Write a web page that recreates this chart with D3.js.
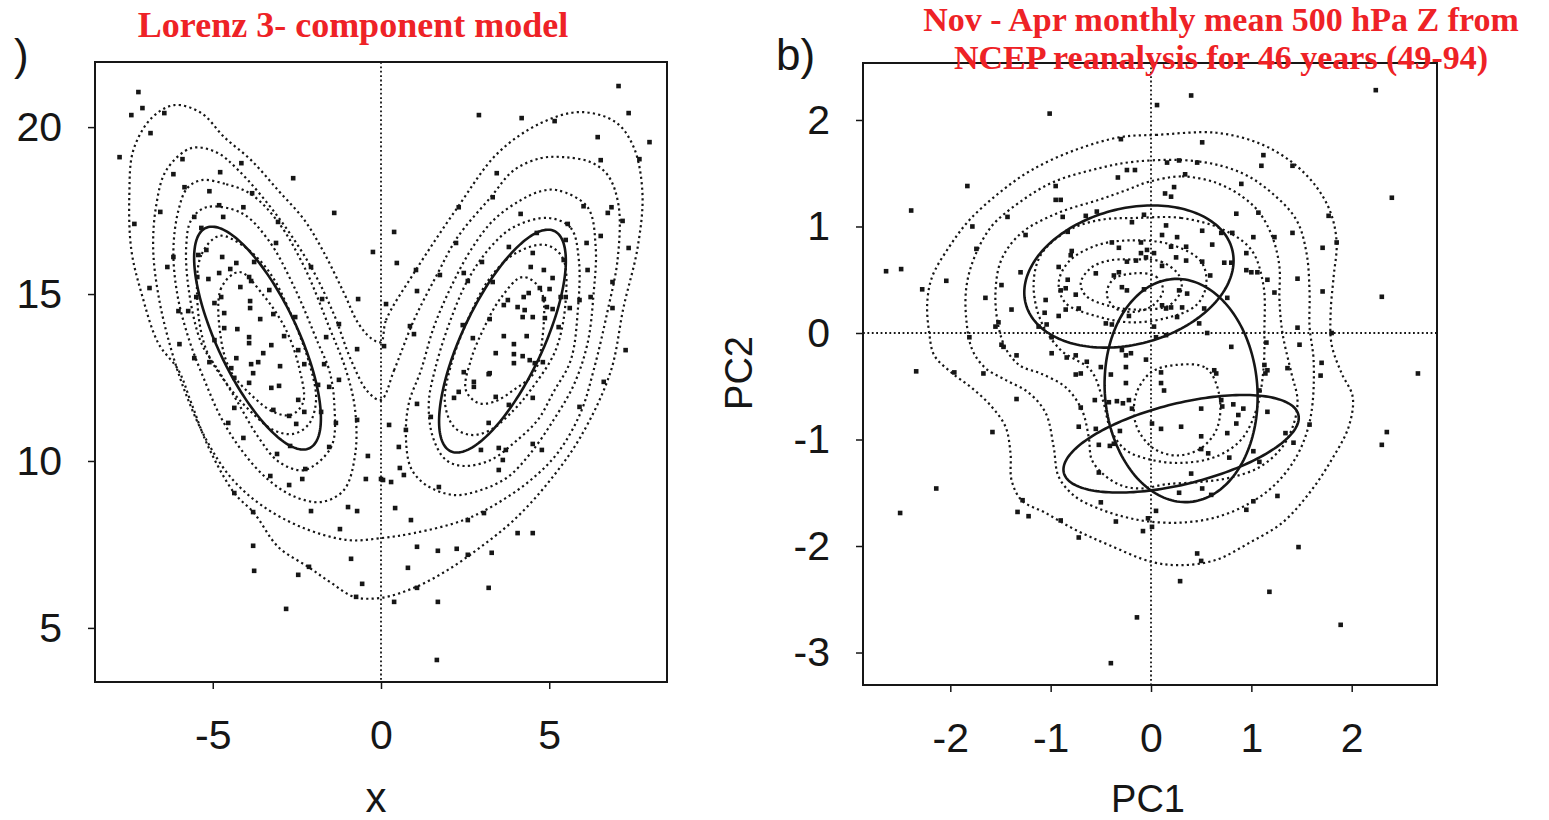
<!DOCTYPE html>
<html>
<head>
<meta charset="utf-8">
<script src="https://cdn.jsdelivr.net/npm/d3@7"></script>
<style>
  body { margin: 0; background: #fff; }
</style>
</head>
<body>
<svg id="chart" width="1549" height="820"></svg>
<script>
// ---------- panel a: Lorenz 3-component model ----------
const lorenzXTicks = [-5, 0, 5];
const lorenzYTicks = [5, 10, 15, 20];

const lorenzPoints = [
  [-7.21,21.05],[-7.42,20.36],[-7.09,20.57],[-6.44,20.42],[-6.85,19.82],[-7.77,19.10],[-5.90,19.04],[-6.17,18.59],
  [-4.78,18.65],[-4.15,18.92],[-2.61,18.47],[-5.84,18.20],[-5.10,18.08],[-3.83,18.02],[-4.81,17.66],[-4.09,17.60],
  [-6.56,17.46],[-5.55,17.31],[-4.69,17.31],[-1.39,17.43],[-3.06,17.16],[-7.33,17.10],[-5.34,16.98],[-3.12,16.53],
  [-5.43,16.17],[-5.19,16.32],[-6.17,16.11],[-4.72,16.11],[-0.24,16.26],[-6.35,15.81],[-4.30,15.93],[-3.77,15.96],
  [-2.08,15.81],[-4.48,15.75],[-4.81,15.63],[-6.88,15.18],[-5.46,15.51],[-5.13,15.45],[-3.92,15.51],[-3.86,15.39],
  [-4.18,15.21],[-3.32,15.12],[-1.75,14.85],[-0.68,14.85],[-5.49,14.91],[-4.75,14.91],[-4.95,14.73],[-3.89,14.79],
  [-3.89,14.58],[-3.20,14.40],[-6.02,14.49],[-5.73,14.49],[-4.66,14.43],[-3.59,14.25],[-2.55,14.31],[-1.25,14.10],
  [-4.66,13.98],[-4.27,13.95],[-2.88,13.74],[-1.63,13.71],[-3.92,13.71],[-3.92,13.53],[-3.26,13.47],[-5.99,13.50],
  [-4.95,13.62],[-0.71,13.35],[0.09,13.44],[-2.46,13.32],[-3.50,13.23],[-5.55,13.08],[-5.10,12.96],[-4.30,13.08],
  [-3.86,12.90],[-3.00,12.84],[-2.28,12.90],[-1.69,12.90],[-4.45,12.78],[-3.65,12.96],
  [-3.80,12.63],[-4.36,12.49],[-3.92,12.34],[-3.26,12.19],[-3.03,12.25],[-1.87,12.28],[-1.54,12.22],[-1.25,12.43],
  [-2.46,11.83],[-4.36,11.59],[-3.20,11.53],[-2.28,11.47],[-1.78,11.47],[-2.73,11.35],[-4.54,11.14],[-2.52,11.11],
  [-1.34,11.14],[-0.71,11.23],[-4.09,10.69],[-1.54,10.42],[-2.70,10.45],[-3.09,10.21],[-0.39,10.15],[-2.25,9.76],
  [-3.29,9.55],[-2.34,9.46],[-0.45,9.46],[0.00,9.46],[-2.73,9.28],[-4.36,9.04],[-3.80,8.47],[-2.08,8.50],
  [-0.98,8.62],[-0.71,8.50],[-1.22,7.96],[-3.80,7.46],[-0.89,7.07],[-3.77,6.71],[-2.46,6.59],[-2.14,6.83],
  [-0.56,6.32],[-0.74,5.93],[-2.82,5.57],
  [7.06,21.23],[2.91,20.36],[4.18,20.27],[5.16,20.18],[7.36,20.42],[7.98,19.55],[6.44,19.70],[6.53,19.01],
  [7.68,19.04],[3.44,18.62],[2.31,17.60],[3.32,17.90],[6.02,17.63],[6.74,17.43],[6.85,17.60],[7.18,17.19],
  [4.15,17.40],[0.39,16.86],[4.63,16.83],[5.55,17.10],[6.53,16.74],[2.23,16.53],[3.80,16.41],[5.49,16.62],
  [6.11,16.53],[7.36,16.38],[0.47,15.93],[4.51,16.23],[5.43,16.02],[6.14,15.72],[1.04,15.72],[1.75,15.57],
  [2.46,15.63],[3.00,15.96],[4.45,15.81],[4.84,15.72],[5.10,15.48],[3.32,15.36],[2.58,15.39],[1.07,15.09],
  [4.72,15.18],[5.01,15.15],[6.88,15.36],[4.24,14.91],[4.39,15.03],[5.34,14.91],[5.49,14.91],[5.90,14.82],
  [6.23,14.91],[3.77,14.82],[3.65,14.67],[4.06,14.61],[4.27,14.52],[4.84,14.85],[4.93,14.61],[5.10,14.55],
  [5.61,14.58],[6.88,14.58],[0.15,14.70],[4.21,14.31],[4.51,14.31],[4.87,14.28],[3.23,14.25],[0.86,14.04],
  [0.98,13.80],[2.43,14.07],[5.28,14.01],[3.65,13.74],[4.33,13.74],[2.73,13.68],[3.95,13.50],[3.41,13.23],
  [3.95,13.20],[4.21,13.14],[4.42,13.02],[4.57,12.93],[4.81,12.96],[7.27,13.32],[3.23,12.63],[3.95,12.93],
  [2.46,12.66],
  [3.20,12.60],[2.76,12.37],[2.76,12.22],[2.31,12.07],[2.17,11.89],[3.41,11.92],[3.80,11.68],[4.51,11.89],
  [1.07,11.71],[5.90,11.62],[6.62,12.37],[0.24,11.08],[0.74,10.93],[1.48,11.32],[3.20,11.14],[0.53,10.42],
  [2.97,10.33],[3.50,10.39],[3.71,10.33],[4.51,10.51],[4.78,10.33],[3.62,10.03],[0.56,9.79],[0.68,9.58],
  [0.06,9.43],[0.30,9.37],[3.50,9.73],[1.72,9.22],[0.42,8.59],[0.89,8.23],[2.58,8.23],[3.06,8.44],
  [4.06,7.84],[4.51,7.84],[1.07,7.43],[1.69,7.31],[2.25,7.37],[2.58,7.19],[3.29,7.25],[0.80,6.80],
  [1.07,6.20],[3.20,6.20],[0.39,5.78],[1.69,5.78],[1.66,4.04]
];

// density contours (data units)
const lorenzOuter = [
  [0,13.56],[0.15,14.22],[0.98,15.63],[2.28,17.60],[3.47,19.22],[4.75,20.12],[5.93,20.45],[6.97,20.15],
  [7.51,19.40],[7.77,18.02],[7.63,16.41],[7.21,14.61],[6.82,12.66],[5.93,10.72],[4.96,9.34],[3.95,8.23],
  [2.97,7.43],[1.99,6.74],[0.98,6.20],[0,5.90],[-0.80,5.93],[-1.48,6.35],[-2.17,6.83],[-3.06,7.43],
  [-3.77,8.44],[-4.36,9.04],[-5.13,10.42],[-5.64,11.74],[-6.02,12.72],[-6.62,13.53],[-7.12,15.03],[-7.42,16.32],
  [-7.48,17.96],[-7.36,19.31],[-6.82,20.27],[-6.14,20.66],[-5.34,20.42],[-4.66,19.70],[-3.86,19.01],[-3.06,18.11],
  [-2.28,17.22],[-1.69,16.23],[-1.10,15.03],[-0.68,14.13],[-0.30,13.68]
];
const lorenzSecond = [
  [0,11.83],[0.39,12.72],[0.98,14.22],[1.69,15.63],[2.28,16.71],[3.26,17.90],[3.95,18.71],[4.75,19.07],
  [5.43,19.10],[6.23,18.95],[6.74,18.56],[7.06,17.66],[7.03,16.02],[6.74,14.52],[6.32,12.72],[5.93,11.44],
  [5.25,10.24],[4.45,9.43],[3.47,8.74],[2.46,8.23],[0.98,7.84],[0,7.69],[-0.98,7.63],[-2.37,8.02],
  [-3.56,8.68],[-4.45,9.49],[-5.19,10.63],[-5.79,11.98],[-6.23,13.32],[-6.59,14.82],[-6.77,16.32],[-6.68,17.66],
  [-6.38,18.71],[-5.64,19.37],[-4.90,19.25],[-4.24,18.71],[-3.06,17.31],[-2.08,15.81],[-1.39,14.37],[-0.89,13.02],
  [-0.39,12.07]
];
const lorenzRight3 = [
  [5.25,18.11],[6.14,17.60],[6.38,16.41],[6.32,15.03],[6.14,13.53],[5.73,12.28],[5.13,11.23],[4.45,10.24],
  [3.77,9.52],[2.97,9.13],[2.17,8.98],[1.34,9.28],[0.89,9.79],[0.74,10.72],[0.83,11.74],[1.19,12.72],
  [1.57,14.01],[2.08,15.21],[2.67,16.32],[3.35,17.22],[4.15,17.81],[4.75,18.08]
];
const lorenzRight4 = [
  [4.96,17.28],[5.64,16.98],[5.88,16.02],[5.85,14.52],[5.64,13.02],[5.13,12.07],[4.66,11.23],[3.95,10.54],
  [3.26,10.03],[2.46,9.85],[1.93,10.03],[1.54,10.72],[1.42,11.74],[1.60,12.72],[1.99,14.01],[2.58,15.42],
  [3.26,16.41],[3.95,17.01]
];
const lorenzRight5 = [
  [4.90,16.47],[5.40,16.08],[5.49,14.82],[5.19,13.32],[4.45,12.13],[3.95,11.53],[3.26,10.93],[2.67,10.78],
  [2.17,11.02],[1.90,11.74],[2.08,12.87],[2.67,14.43],[3.26,15.51],[4.01,16.23]
];
const lorenzRight6 = [
  [4.21,15.51],[4.75,15.12],[4.78,13.53],[4.54,12.63],[3.95,12.13],[3.35,11.77],[2.88,11.74],[2.52,12.13],
  [2.67,13.02],[3.03,13.92],[3.56,14.88]
];
const lorenzLeft3 = [
  [-5.34,18.41],[-4.60,18.29],[-3.86,17.99],[-3.06,17.16],[-2.28,15.81],[-1.54,14.01],[-1.04,12.72],[-0.77,11.53],
  [-0.77,10.18],[-1.10,9.13],[-1.78,8.77],[-2.61,8.95],[-3.41,9.49],[-4.15,10.33],[-4.75,11.29],[-5.25,12.43],
  [-5.70,13.62],[-6.05,14.97],[-6.17,16.32],[-6.02,17.51],[-5.76,18.17]
];
const lorenzLeft4 = [
  [-5.19,17.60],[-4.15,17.43],[-3.35,16.62],[-2.58,15.21],[-1.87,13.53],[-1.54,12.72],[-1.39,11.74],[-1.48,10.42],
  [-2.28,9.73],[-3.03,9.97],[-3.65,10.72],[-4.30,11.83],[-4.84,12.72],[-5.34,13.53],[-5.70,15.03],[-5.79,16.41],
  [-5.64,17.22]
];
const lorenzLeft5 = [
  [-4.81,16.74],[-5.34,16.17],[-5.46,14.82],[-5.19,13.32],[-4.45,12.13],[-3.86,11.47],[-3.20,10.93],[-2.61,10.81],
  [-2.14,11.11],[-1.93,11.83],[-2.14,12.96],[-2.73,14.52],[-3.32,15.66],[-4.09,16.44]
];
const lorenzLeft6 = [
  [-4.21,15.66],[-4.75,15.18],[-4.75,13.62],[-4.45,12.66],[-3.86,11.98],[-3.20,11.47],[-2.67,11.38],[-2.31,11.77],
  [-2.43,12.78],[-2.82,13.92],[-3.50,14.97]
];

// mixture components (centre, semi-axes, tilt in degrees)
const lorenzEllipses = [
  { cx: -3.67, cy: 13.68, rx: 3.64, ry: 1.2, angle: -65 },
  { cx: 3.61, cy: 13.59, rx: 3.64, ry: 1.2, angle: 65 }
];

// ---------- panel b: NCEP 500 hPa Z, PC1 / PC2 ----------
const ncepXTicks = [-2, -1, 0, 1, 2];
const ncepYTicks = [-3, -2, -1, 0, 1, 2];

const ncepPoints = [
  [-1.01,2.06],[-1.83,1.38],[-2.39,1.15],[-1.43,1.09],[-1.78,1.00],[-1.25,0.92],[-2.64,0.58],[-2.49,0.60],
  [-2.28,0.41],[-2.04,0.49],[-1.74,0.79],[-1.65,0.33],[-1.49,0.45],[-1.30,0.57],[-1.39,0.22],[-1.55,0.06],
  [-1.52,0.10],[-1.81,-0.04],[-1.49,-0.11],[-1.47,-0.13],[-1.34,-0.21],[-1.04,0.08],[-0.99,-0.04],[-1.12,0.06],
  [-1.06,0.19],[-0.92,0.16],[-0.85,0.22],[-0.72,0.23],[-0.75,0.36],[-0.90,0.40],[-1.05,0.31],[-0.85,0.42],
  [-0.83,0.50],[-0.79,0.77],[-0.80,0.73],[-0.83,0.95],[-0.88,1.09],[-0.95,1.38],[-0.95,1.25],[-0.90,1.25],
  [-0.65,1.10],[-0.54,1.14],[-0.33,1.46],[-0.24,1.53],[-0.16,1.53],[-0.30,1.82],[-0.39,0.85],[-0.32,0.80],
  [-0.24,0.67],[-0.15,0.68],[-0.10,0.85],[-0.10,0.75],[-0.05,0.71],[-0.32,0.57],[-0.37,0.54],[-0.29,0.43],
  [-0.24,0.40],[-0.55,0.56],[-0.92,0.62],[-0.45,0.09],[-0.39,0.08],[-0.22,0.16],[-0.07,0.41],[-0.04,0.78],
  [-0.19,1.04],[-0.07,1.11],[-0.99,-0.19],[-0.84,-0.23],[-0.75,-0.21],[-0.64,-0.27],[-0.50,-0.32],[-0.29,-0.16],
  [-0.25,-0.21],[-0.20,-0.19],[-0.05,-0.25],[-0.25,-0.32],[-2.34,-0.36],[-1.67,-0.38],[-1.96,-0.37],
  [0.40,2.23],[0.06,2.14],[2.24,2.28],[0.51,1.79],[1.12,1.67],[1.10,1.57],[1.41,1.57],[0.28,1.62],
  [0.16,1.60],[0.46,1.60],[0.34,1.49],[0.90,1.40],[0.23,1.37],[0.14,1.31],[0.20,1.28],[2.40,1.27],
  [0.85,1.12],[1.07,1.13],[1.77,1.10],[0.51,0.96],[0.70,0.94],[0.81,0.94],[1.02,0.90],[1.41,0.94],
  [1.23,0.90],[0.15,1.01],[0.11,0.92],[0.26,0.90],[0.20,0.81],[0.35,0.81],[0.61,0.83],[1.85,0.85],
  [1.71,0.80],[0.03,0.75],[0.25,0.71],[0.35,0.68],[0.11,0.63],[0.51,0.67],[0.73,0.66],[0.80,0.66],
  [0.95,0.75],[0.95,0.59],[1.00,0.57],[1.06,0.57],[0.59,0.54],[1.16,0.50],[1.46,0.51],[1.71,0.39],
  [2.30,0.34],[1.23,0.38],[0.76,0.33],[0.28,0.40],[0.36,0.37],[0.11,0.26],[0.15,0.23],[0.20,0.24],
  [0.31,0.24],[0.53,0.23],[0.26,0.15],[0.03,0.06],[0.48,0.09],[0.56,0.00],[0.15,-0.02],[0.05,-0.04],
  [0.80,-0.13],[1.46,0.05],[1.15,-0.09],[1.48,-0.11],[1.80,0.00],[1.13,-0.30],[1.16,-0.35],[1.70,-0.28],
  [1.36,-0.33],[0.63,-0.35],[0.10,-0.37],[2.66,-0.38],
  [-0.75,-0.39],[-0.70,-0.38],[-0.40,-0.39],[-0.25,-0.47],[-1.34,-0.62],[-0.56,-0.63],[-0.70,-0.70],[-0.42,-0.65],
  [-0.34,-0.64],[-0.28,-0.66],[-0.22,-0.63],[-0.19,-0.71],[-1.58,-0.93],[-0.72,-0.88],[-0.55,-0.90],[-0.31,-0.92],
  [0.01,-0.85],[-0.52,-1.05],[-0.41,-1.06],[-0.37,-1.04],[-0.52,-1.31],[-2.14,-1.46],[-2.50,-1.69],[-1.28,-1.57],
  [-1.33,-1.68],[-1.22,-1.72],[-0.90,-1.76],[-0.72,-1.92],[-0.50,-1.59],[-0.35,-1.77],[-0.08,-1.86],[-0.03,-1.74],
  [0.01,-1.82],[-0.14,-2.67],[-0.40,-3.10],
  [0.10,-0.47],[0.13,-0.54],[0.65,-0.38],[1.14,-0.38],[1.69,-0.40],[0.70,-0.63],[0.71,-0.69],[0.82,-0.67],
  [0.92,-0.71],[0.50,-0.71],[1.16,-0.74],[0.87,-0.77],[0.85,-0.85],[1.08,-0.54],[0.10,-0.90],[0.30,-0.88],
  [0.50,-0.97],[0.76,-0.94],[1.34,-0.94],[1.42,-1.03],[1.58,-0.86],[2.35,-0.93],[2.30,-1.05],[0.50,-1.09],
  [0.57,-1.13],[0.78,-1.17],[1.02,-1.11],[1.08,-1.21],[0.40,-1.32],[0.51,-1.46],[0.28,-1.50],[0.60,-1.52],
  [1.26,-1.53],[1.02,-1.58],[0.95,-1.66],[0.05,-1.67],[1.47,-2.01],[0.46,-2.07],[0.50,-2.14],[0.29,-2.33],
  [1.18,-2.43],[1.89,-2.74]
];

const ncepOuter = [
  [-0.30,1.84],[0.05,1.86],[0.65,1.88],[1.08,1.78],[1.41,1.60],[1.65,1.37],[1.79,1.13],[1.85,0.85],
  [1.82,0.53],[1.79,0.19],[1.80,-0.11],[1.90,-0.38],[2.01,-0.60],[1.97,-0.88],[1.80,-1.19],[1.58,-1.50],
  [1.31,-1.78],[0.98,-1.97],[0.65,-2.13],[0.31,-2.18],[0.01,-2.15],[-0.42,-1.99],[-0.75,-1.85],[-1.05,-1.69],
  [-1.29,-1.57],[-1.39,-1.38],[-1.40,-1.13],[-1.45,-0.88],[-1.59,-0.69],[-1.78,-0.52],[-1.99,-0.37],[-2.16,-0.21],
  [-2.21,0.00],[-2.23,0.28],[-2.18,0.53],[-2.01,0.81],[-1.81,1.06],[-1.52,1.31],[-1.19,1.53],[-0.75,1.72]
];
const ncepSecond = [
  [-0.15,1.61],[0.48,1.61],[0.91,1.50],[1.21,1.31],[1.45,1.06],[1.55,0.75],[1.58,0.38],[1.58,0.06],
  [1.62,-0.25],[1.61,-0.66],[1.56,-0.91],[1.45,-1.16],[1.25,-1.41],[0.98,-1.60],[0.65,-1.73],[0.31,-1.78],
  [-0.02,-1.77],[-0.25,-1.73],[-0.49,-1.66],[-0.75,-1.54],[-0.92,-1.35],[-0.97,-1.07],[-1.05,-0.75],[-1.22,-0.56],
  [-1.45,-0.44],[-1.65,-0.33],[-1.78,-0.16],[-1.84,0.12],[-1.84,0.43],[-1.76,0.71],[-1.59,1.00],[-1.32,1.22],
  [-0.99,1.41],[-0.59,1.53]
];
const ncepThird = [
  [-0.02,1.42],[0.31,1.47],[0.65,1.41],[0.91,1.28],[1.08,1.13],[1.21,0.90],[1.28,0.62],[1.28,0.31],
  [1.31,0.00],[1.40,-0.38],[1.46,-0.63],[1.42,-0.86],[1.30,-1.08],[1.08,-1.26],[0.78,-1.36],[0.48,-1.40],
  [0.15,-1.42],[-0.10,-1.46],[-0.30,-1.43],[-0.47,-1.33],[-0.59,-1.19],[-0.62,-0.98],[-0.69,-0.72],[-0.85,-0.51],
  [-1.10,-0.38],[-1.30,-0.31],[-1.44,-0.16],[-1.52,0.06],[-1.55,0.38],[-1.49,0.69],[-1.29,0.94],[-0.92,1.13],
  [-0.52,1.25],[-0.25,1.34]
];
const ncepFourth = [
  [-0.15,1.08],[0.30,1.08],[0.72,0.97],[1.00,0.78],[1.12,0.45],[1.13,0.03],[1.12,-0.35],[1.05,-0.72],
  [0.90,-1.00],[0.65,-1.16],[0.30,-1.22],[0,-1.19],[-0.25,-1.10],[-0.40,-0.91],[-0.48,-0.63],[-0.60,-0.35],
  [-0.90,-0.16],[-1.10,0.12],[-1.17,0.45],[-1.10,0.73],[-0.85,0.95],[-0.52,1.06]
];
const ncepUpper5 = [
  [-0.20,0.87],[0.20,0.83],[0.50,0.67],[0.55,0.45],[0.45,0.26],[0.15,0.14],[-0.20,0.10],[-0.55,0.16],
  [-0.85,0.28],[-0.92,0.47],[-0.82,0.67],[-0.55,0.82]
];
const ncepUpper6 = [
  [-0.20,0.69],[0.10,0.67],[0.28,0.54],[0.30,0.40],[0.18,0.26],[-0.10,0.22],[-0.40,0.25],[-0.65,0.35],
  [-0.70,0.47],[-0.60,0.61],[-0.42,0.68]
];
const ncepUpper7 = [
  [-0.17,0.56],[0.05,0.53],[0.12,0.40],[0.02,0.26],[-0.15,0.20],[-0.35,0.23],[-0.44,0.36],[-0.38,0.50]
];
const ncepLower5 = [
  [0.25,-0.30],[0.55,-0.33],[0.68,-0.58],[0.66,-0.89],[0.50,-1.08],[0.26,-1.15],[0.02,-1.08],[-0.15,-0.86],
  [-0.15,-0.58],[0,-0.37]
];

const ncepEllipses = [
  { cx: -0.22, cy: 0.53, rx: 1.06, ry: 0.64, angle: 13 },
  { cx: 0.30, cy: -0.54, rx: 0.76, ry: 1.05, angle: 5 },
  { cx: 0.30, cy: -1.04, rx: 1.20, ry: 0.38, angle: 13 }
];

// ---------- drawing ----------
const svg = d3.select("#chart");
const INK = "#161616";
const RED = "#ee2226";

function ellipsePoints(e) {
  const th = e.angle * Math.PI / 180;
  return d3.range(0, 360, 2).map(deg => {
    const t = deg * Math.PI / 180;
    return [
      e.cx + e.rx * Math.cos(th) * Math.cos(t) - e.ry * Math.sin(th) * Math.sin(t),
      e.cy + e.rx * Math.sin(th) * Math.cos(t) + e.ry * Math.cos(th) * Math.sin(t)
    ];
  });
}

function drawPanel(p) {
  const x = d3.scaleLinear().domain(p.xDomain).range([p.left, p.right]);
  const y = d3.scaleLinear().domain(p.yDomain).range([p.bottom, p.top]);

  svg.append("clipPath").attr("id", p.id + "-clip")
    .append("rect")
    .attr("x", p.left).attr("y", p.top)
    .attr("width", p.right - p.left).attr("height", p.bottom - p.top);

  const g = svg.append("g");
  const plot = g.append("g").attr("clip-path", `url(#${p.id}-clip)`);

  // dotted reference lines through zero
  plot.append("line")
    .attr("x1", x(0)).attr("x2", x(0)).attr("y1", p.top).attr("y2", p.bottom)
    .attr("stroke", INK).attr("stroke-width", 1.8).attr("stroke-dasharray", "1.8 2.6");
  if (p.hLine) {
    plot.append("line")
      .attr("x1", p.left).attr("x2", p.right).attr("y1", y(0)).attr("y2", y(0))
      .attr("stroke", INK).attr("stroke-width", 1.8).attr("stroke-dasharray", "1.8 2.6");
  }

  const closed = d3.line()
    .x(d => x(d[0])).y(d => y(d[1]))
    .curve(d3.curveCatmullRomClosed.alpha(0.5));

  plot.selectAll("path.contour")
    .data(p.contours)
    .join("path")
    .attr("class", "contour")
    .attr("d", closed)
    .attr("fill", "none")
    .attr("stroke", INK)
    .attr("stroke-width", 2.2)
    .attr("stroke-dasharray", "2.2 3.2");

  const linear = d3.line().x(d => x(d[0])).y(d => y(d[1])).curve(d3.curveLinearClosed);
  plot.selectAll("path.comp")
    .data(p.ellipses)
    .join("path")
    .attr("class", "comp")
    .attr("d", e => linear(ellipsePoints(e)))
    .attr("fill", "none")
    .attr("stroke", INK)
    .attr("stroke-width", 2.6);

  plot.selectAll("rect.pt")
    .data(p.points)
    .join("rect")
    .attr("class", "pt")
    .attr("x", d => x(d[0]) - 2.3)
    .attr("y", d => y(d[1]) - 2.3)
    .attr("width", 4.6).attr("height", 4.6)
    .attr("fill", INK);

  // frame
  g.append("rect")
    .attr("x", p.left).attr("y", p.top)
    .attr("width", p.right - p.left).attr("height", p.bottom - p.top)
    .attr("fill", "none").attr("stroke", INK).attr("stroke-width", 2);

  const font = "'Liberation Sans', Arial, Helvetica, sans-serif";

  const xAxis = g.append("g")
    .attr("transform", `translate(0,${p.bottom})`)
    .call(d3.axisBottom(x).tickValues(p.xTicks).tickSize(7).tickPadding(31).tickFormat(d => String(d)));
  const yAxis = g.append("g")
    .attr("transform", `translate(${p.left},0)`)
    .call(d3.axisLeft(y).tickValues(p.yTicks).tickSize(7).tickPadding(26).tickFormat(d => String(d)));

  [xAxis, yAxis].forEach(a => {
    a.select(".domain").remove();
    a.selectAll("line").attr("stroke", INK).attr("stroke-width", 1.5);
    a.selectAll("text").attr("fill", INK).style("font-family", font).style("font-size", "41px");
  });

  g.append("text")
    .attr("x", (p.left + p.right) / 2 + p.xTitleDx).attr("y", 812)
    .attr("text-anchor", "middle")
    .style("font-family", font).style("font-size", p.xTitleSize + "px")
    .attr("fill", INK)
    .text(p.xTitle);

  if (p.yTitle) {
    g.append("text")
      .attr("transform", `translate(752,373) rotate(-90)`)
      .attr("text-anchor", "middle")
      .style("font-family", font).style("font-size", "38px")
      .attr("fill", INK)
      .text(p.yTitle);
  }

  g.append("text")
    .attr("x", p.tagX).attr("y", 70)
    .style("font-family", font).style("font-size", "44px")
    .attr("fill", INK)
    .text(p.tag);
}

drawPanel({
  id: "lorenz",
  left: 95, right: 667, top: 62, bottom: 682,
  xDomain: [-8.5, 8.5], yDomain: [3.38, 21.95],
  xTicks: lorenzXTicks, yTicks: lorenzYTicks,
  points: lorenzPoints,
  contours: [lorenzOuter, lorenzSecond, lorenzLeft3, lorenzLeft4, lorenzLeft5, lorenzLeft6,
             lorenzRight3, lorenzRight4, lorenzRight5, lorenzRight6],
  ellipses: lorenzEllipses,
  hLine: false,
  xTitle: "x", xTitleSize: 42, xTitleDx: -5,
  tag: ")", tagX: 14
});

drawPanel({
  id: "ncep",
  left: 863, right: 1437, top: 63, bottom: 685,
  xDomain: [-2.87, 2.85], yDomain: [-3.305, 2.535],
  xTicks: ncepXTicks, yTicks: ncepYTicks,
  points: ncepPoints,
  contours: [ncepOuter, ncepSecond, ncepThird, ncepFourth, ncepUpper5, ncepUpper6, ncepUpper7, ncepLower5],
  ellipses: ncepEllipses,
  hLine: true,
  xTitle: "PC1", xTitleSize: 38, xTitleDx: -2,
  yTitle: "PC2",
  tag: "b)", tagX: 776
});

// red titles
const serif = "'Liberation Serif', 'Times New Roman', serif";
svg.append("text")
  .attr("x", 353).attr("y", 37)
  .attr("text-anchor", "middle")
  .style("font-family", serif).style("font-weight", "bold").style("font-size", "36px")
  .attr("fill", RED)
  .text("Lorenz 3- component model");

const ncepTitle = ["Nov - Apr monthly mean 500 hPa Z from", "NCEP reanalysis for 46 years (49-94)"];
svg.append("g").selectAll("text")
  .data(ncepTitle)
  .join("text")
  .attr("x", 1221)
  .attr("y", (d, i) => 31 + i * 38)
  .attr("text-anchor", "middle")
  .style("font-family", serif).style("font-weight", "bold").style("font-size", "34px")
  .attr("fill", RED)
  .text(d => d);
</script>
</body>
</html>
